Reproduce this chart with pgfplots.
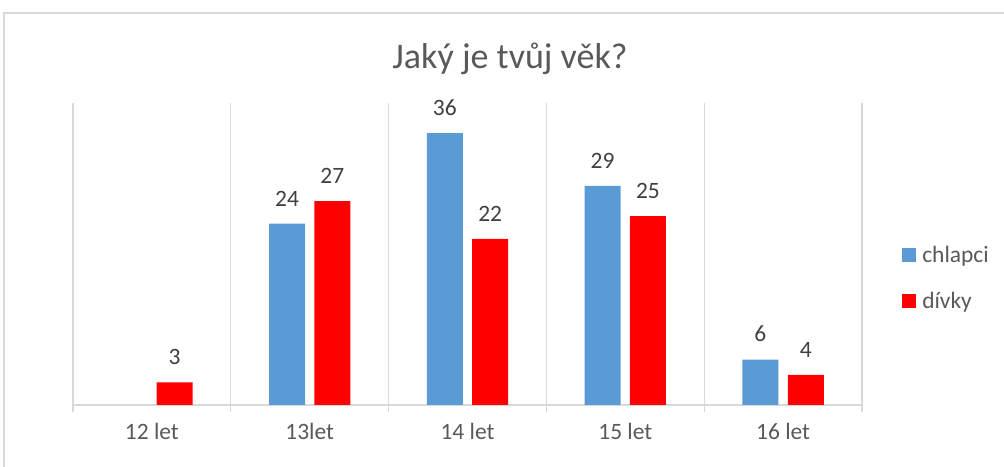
\documentclass[border=0pt]{standalone}
\usepackage{fontspec}
\setmainfont{Carlito}
\usepackage{pgfplots}
\pgfplotsset{compat=1.18}
\definecolor{chblue}{HTML}{5B9BD5}
\definecolor{chred}{HTML}{FF0000}
\definecolor{txtgray}{HTML}{595959}
\definecolor{lblgray}{HTML}{404040}
\definecolor{gridgray}{HTML}{D9D9D9}
\begin{document}
\begin{tikzpicture}
\useasboundingbox (0,0) rectangle (753pt,350.25pt);
% chart frame
\draw[gridgray, line width=1.2pt] (3pt,-10pt) rectangle (770pt,340.5pt);
\node[anchor=base, font=\fontsize{27}{30}\selectfont, text=txtgray] at (382.5pt,299pt) {Jaký je tvůj věk?};
\begin{axis}[
  at={(54.75pt,46.5pt)}, anchor=south west,
  scale only axis,
  width=591.75pt, height=226.6pt,
  ybar=7pt, bar width=27pt,
  xmin=-0.5, xmax=4.5, ymin=0, ymax=40,
  axis y line=none,
  axis x line*=bottom,
  x axis line style={gridgray, line width=1pt, -},
  xtick={0,1,2,3,4},
  xticklabels={12 let,13let,14 let,15 let,16 let},
  major tick length=0pt,
  xticklabel style={font=\fontsize{17.6}{20}\selectfont, text=txtgray, yshift=-10pt},
  extra x ticks={-0.5,0.5,1.5,2.5,3.5,4.5},
  extra x tick labels={},
  extra x tick style={grid=major, major grid style={gridgray, line width=1pt},
    major tick length=5.5pt, tick align=outside, tick style={gridgray, line width=1pt}},
  nodes near coords,
  every node near coord/.append style={font=\fontsize{17.6}{20}\selectfont, text=lblgray, anchor=south, inner sep=0pt, yshift=13pt},
  /pgf/number format/assume math mode=true,
  legend cell align=left,
  legend style={at={(1,0.42)}, anchor=west, xshift=27pt, draw=none, fill=none,
    font=\fontsize{17.6}{20}\selectfont, text=txtgray, row sep=17pt},
  legend image code/.code={\fill[#1] (0pt,-5.25pt) rectangle (10.5pt,5.25pt); \path (13pt,0pt);},
]
\addplot[fill=chblue, draw=none] coordinates {(1,24) (2,36) (3,29) (4,6)};
\addplot[fill=chred, draw=none] coordinates {(0,3) (1,27) (2,22) (3,25) (4,4)};
\legend{chlapci,dívky}
\end{axis}
\end{tikzpicture}
\end{document}
